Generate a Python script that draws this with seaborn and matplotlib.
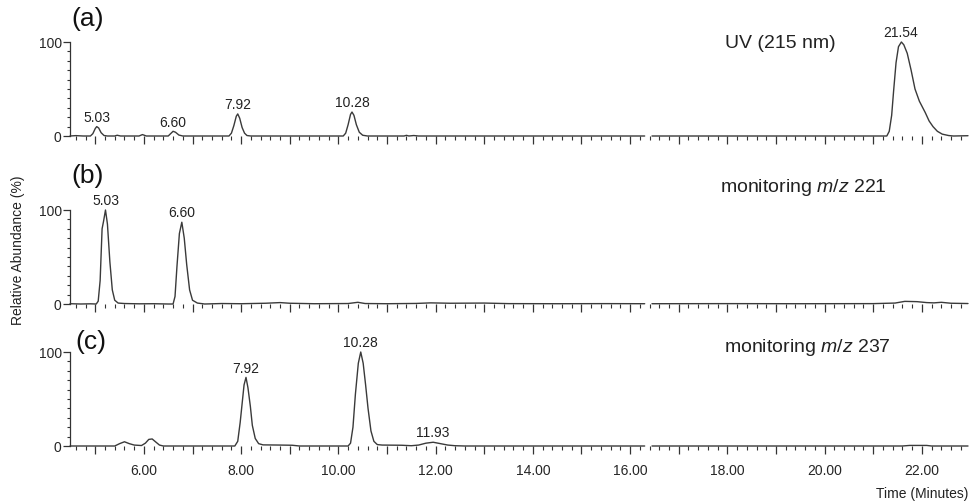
import matplotlib
matplotlib.use("Agg")
import matplotlib.pyplot as plt
from matplotlib.ticker import MultipleLocator, FuncFormatter
import numpy as np
import pandas as pd
import seaborn as sns

# ---- data (time in min, relative abundance in %) ----
uv_time = [4.48, 4.60, 4.75, 4.90, 4.95, 5.00, 5.03, 5.07, 5.12, 5.18, 5.25, 5.40, 5.45, 5.52,
           5.90, 5.97, 6.05, 6.50, 6.55, 6.60, 6.65, 6.72, 6.80, 7.75, 7.80, 7.85, 7.90, 7.93,
           7.97, 8.02, 8.07, 8.12, 8.20, 10.10, 10.15, 10.20, 10.25, 10.28, 10.32, 10.37, 10.43,
           10.50, 10.60, 11.35, 11.40, 11.45, 11.55, 11.65, 16.30, 16.45, 21.28, 21.33, 21.38,
           21.42, 21.47, 21.52, 21.58, 21.63, 21.70, 21.78, 21.86, 21.95, 22.07, 22.15, 22.23,
           22.32, 22.42, 22.55, 22.65, 22.95]
uv_abund = [0.0, 0.4, 0.0, 0.0, 2.5, 8.0, 10.0, 8.5, 3.5, 0.5, 0.0, 0.0, 0.8, 0.0,
            0.0, 1.5, 0.0, 0.0, 2.5, 5.0, 4.0, 1.0, 0.0, 0.0, 3.0, 11.0, 21.0, 23.5,
            19.0, 9.0, 3.0, 0.5, 0.0, 0.0, 3.0, 12.0, 23.0, 25.5, 22.0, 12.0, 4.0,
            0.8, 0.0, 0.0, 0.7, 0.0, 0.5, 0.0, 0.0, 0.0, 0.0, 5.0, 22.0,
            48.0, 78.0, 95.0, 100.0, 97.0, 88.0, 70.0, 50.0, 37.0, 25.0, 16.0, 10.0,
            5.0, 2.0, 0.5, 0.0, 0.3]

mz221_time = [4.48, 4.70, 4.90, 5.02, 5.06, 5.10, 5.14, 5.17, 5.21, 5.25, 5.30, 5.35, 5.40,
              5.47, 5.60, 5.90, 6.20, 6.50, 6.60, 6.64, 6.68, 6.73, 6.78, 6.83, 6.88, 6.94,
              7.00, 7.10, 7.25, 7.60, 8.00, 8.50, 8.80, 9.00, 9.50, 10.20, 10.40, 10.55,
              11.00, 11.60, 11.90, 12.30, 13.00, 13.50, 14.50, 15.50, 16.30, 16.45, 18.00,
              19.50, 21.00, 21.45, 21.65, 21.90, 22.10, 22.25, 22.40, 22.60, 22.95]
mz221_abund = [0.3, 0.0, 0.2, 0.0, 3.0, 25.0, 80.0, 88.0, 100.0, 85.0, 45.0, 15.0, 4.0,
               1.0, 0.5, 0.2, 0.3, 0.0, 0.0, 8.0, 40.0, 75.0, 87.0, 70.0, 42.0, 15.0,
               4.0, 1.0, 0.0, 0.5, 0.3, 0.8, 1.5, 0.8, 0.3, 0.5, 1.8, 0.5,
               0.3, 0.6, 1.2, 0.8, 1.0, 0.4, 0.3, 0.4, 0.3, 0.3, 0.4,
               0.3, 0.4, 1.0, 2.8, 2.5, 1.5, 1.2, 1.8, 0.8, 0.5]

mz237_time = [4.48, 5.40, 5.50, 5.60, 5.70, 5.80, 5.95, 6.03, 6.10, 6.17, 6.25, 6.32, 6.40,
              7.87, 7.93, 7.98, 8.02, 8.06, 8.10, 8.14, 8.19, 8.23, 8.29, 8.36, 8.45, 8.80,
              9.05, 9.20, 10.20, 10.25, 10.30, 10.35, 10.41, 10.46, 10.51, 10.56, 10.61,
              10.67, 10.73, 10.80, 10.90, 11.30, 11.50, 11.65, 11.80, 11.95, 12.10, 12.25,
              12.40, 12.60, 16.30, 16.45, 21.60, 21.75, 22.10, 22.20, 22.95]
mz237_abund = [0.0, 0.0, 2.5, 4.5, 2.5, 1.0, 0.5, 3.0, 7.0, 7.5, 4.0, 1.0, 0.0,
               0.0, 5.0, 25.0, 45.0, 65.0, 73.0, 62.0, 42.0, 22.0, 8.0, 2.5, 1.2, 1.0,
               0.8, 0.0, 0.0, 3.0, 20.0, 55.0, 88.0, 100.0, 88.0, 65.0, 40.0,
               16.0, 5.0, 1.5, 1.0, 0.8, 0.3, 1.0, 3.0, 4.0, 2.5, 1.0,
               0.3, 0.0, 0.0, 0.0, 0.0, 0.6, 0.6, 0.0, 0.0]

# peak annotations: where the label sits and what it says
uv_label_x = [5.03, 6.60, 7.93, 10.28, 21.57]
uv_labels = ["5.03", "6.60", "7.92", "10.28", "21.54"]
mz221_label_x = [5.21, 6.78]
mz221_labels = ["5.03", "6.60"]
mz237_label_x = [8.10, 10.46, 11.95]
mz237_labels = ["7.92", "10.28", "11.93"]

panel_letters = ["(a)", "(b)", "(c)"]
trace_titles = ["UV (215 nm)", r"monitoring $\mathit{m/z}$ 221", r"monitoring $\mathit{m/z}$ 237"]

BREAK_AT = 16.35  # data gap in the trace
X_MIN, X_MAX = 4.48, 22.95
LINE_COLOR = "#3a3a3a"


def make_frame(times, abund):
    df = pd.DataFrame({"time": times, "abundance": abund})
    df["segment"] = (df["time"] > BREAK_AT).astype(int)
    return df


sns.set_style("ticks")
plt.rcParams["font.family"] = ["Liberation Sans", "DejaVu Sans"]
plt.rcParams["mathtext.fontset"] = "custom"
plt.rcParams["mathtext.rm"] = "Liberation Sans"
plt.rcParams["mathtext.it"] = "Liberation Sans:italic"

fig = plt.figure(figsize=(9.7, 5.02), dpi=100)

W, H = 970.0, 502.0
left = 70 / W
width = 898 / W
# (px of y=0 baseline, px of y=100)
panel_px = [(137, 43), (305, 211), (447, 353)]

traces = [
    (uv_time, uv_abund, uv_label_x, uv_labels),
    (mz221_time, mz221_abund, mz221_label_x, mz221_labels),
    (mz237_time, mz237_abund, mz237_label_x, mz237_labels),
]
title_pos = [(780, 44), (803, 188), (807, 347)]
letter_pos = [(88, 19), (88, 176), (91, 342)]

for i, ((t, a, lx, lt), (y0, y100)) in enumerate(zip(traces, panel_px)):
    ax = fig.add_axes([left, 1 - y0 / H, width, (y0 - y100) / H])
    df = make_frame(t, a)
    sns.lineplot(data=df, x="time", y="abundance", units="segment", estimator=None,
                 sort=False, color=LINE_COLOR, linewidth=1.0, ax=ax, clip_on=False)
    ax.set_xlim(X_MIN, X_MAX)
    ax.set_ylim(0, 100)
    ax.set_xlabel("")
    ax.set_ylabel("")

    for s in ["top", "right", "bottom"]:
        ax.spines[s].set_visible(False)
    ax.spines["left"].set_bounds(0, 100)
    ax.spines["left"].set_color("#333333")
    ax.spines["left"].set_linewidth(0.9)

    ax.xaxis.set_major_locator(MultipleLocator(1))
    ax.xaxis.set_minor_locator(MultipleLocator(0.2))
    ax.yaxis.set_major_locator(MultipleLocator(100))
    ax.yaxis.set_minor_locator(MultipleLocator(10))
    ax.xaxis.set_major_formatter(
        FuncFormatter(lambda v, p: f"{v:.2f}" if round(v) % 2 == 0 else ""))
    ax.tick_params(axis="x", which="major", length=6, width=0.9, color="#333333",
                   labelsize=10, pad=6, labelbottom=(i == 2))
    ax.tick_params(axis="x", which="minor", length=3, width=0.8, color="#333333")
    ax.tick_params(axis="y", which="major", length=5, width=0.9, color="#333333",
                   labelsize=10, pad=1)
    ax.tick_params(axis="y", which="minor", length=2.5, width=0.8, color="#333333")
    ax.patch.set_alpha(0)

    # peak labels sit just above the local maximum of the trace
    tt = np.asarray(t)
    aa = np.asarray(a)
    for x, txt in zip(lx, lt):
        near = np.abs(tt - x) <= 0.12
        top = aa[near].max()
        ax.annotate(txt, xy=(x, top), xytext=(0, 2), textcoords="offset points",
                    ha="center", va="bottom", fontsize=10, color="#222222",
                    annotation_clip=False)

    fig.text(title_pos[i][0] / W, 1 - title_pos[i][1] / H, trace_titles[i],
             ha="center", va="center", fontsize=14, color="#222222")
    fig.text(letter_pos[i][0] / W, 1 - letter_pos[i][1] / H, panel_letters[i],
             ha="center", va="center", fontsize=19, color="#111111")

fig.text(18 / W, 1 - 250 / H, "Relative Abundance (%)", rotation=90,
         ha="center", va="center", fontsize=10, color="#222222")
fig.text(968 / W, 1 - 494 / H, "Time (Minutes)", ha="right", va="center",
         fontsize=10, color="#222222")

fig.savefig("out.png", dpi=100)
